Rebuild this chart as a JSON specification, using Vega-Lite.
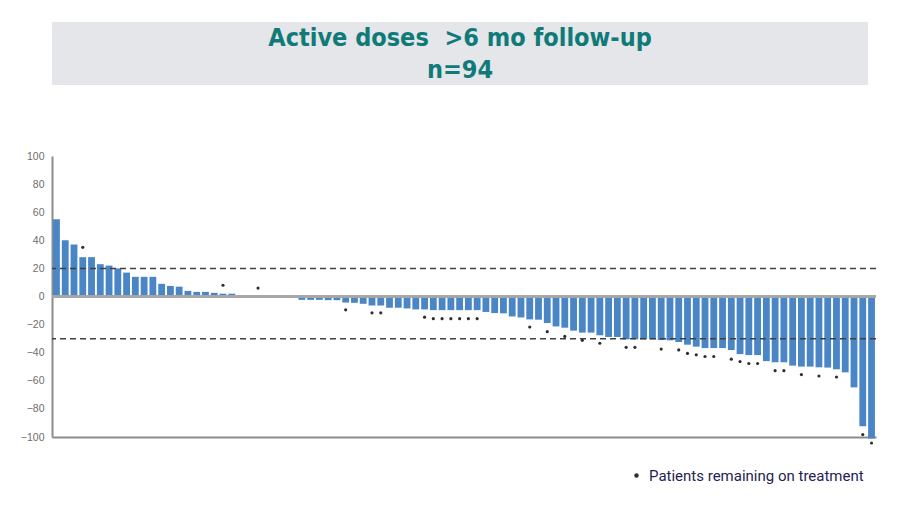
{
  "$schema": "https://vega.github.io/schema/vega-lite/v6.json",
  "description": "Waterfall of best change per patient, active doses with >6 months follow-up",
  "background": "white",
  "padding": {"left": 20, "top": 22, "right": 10, "bottom": 5},
  "bounds": "flush",
  "spacing": 71,
  "config": {"view": {"stroke": null}, "axis": {"labelOverlap": false}},
  "datasets": {
    "patients": [
      {"i": 1, "v": 55, "dot": null},
      {"i": 2, "v": 40, "dot": null},
      {"i": 3, "v": 37, "dot": null},
      {"i": 4, "v": 28, "dot": 35},
      {"i": 5, "v": 28, "dot": null},
      {"i": 6, "v": 23, "dot": null},
      {"i": 7, "v": 22, "dot": null},
      {"i": 8, "v": 20, "dot": null},
      {"i": 9, "v": 17, "dot": null},
      {"i": 10, "v": 14, "dot": null},
      {"i": 11, "v": 14, "dot": null},
      {"i": 12, "v": 14, "dot": null},
      {"i": 13, "v": 9, "dot": null},
      {"i": 14, "v": 7.5, "dot": null},
      {"i": 15, "v": 7, "dot": null},
      {"i": 16, "v": 4, "dot": null},
      {"i": 17, "v": 3.3, "dot": null},
      {"i": 18, "v": 3.3, "dot": null},
      {"i": 19, "v": 2.6, "dot": null},
      {"i": 20, "v": 2, "dot": 8},
      {"i": 21, "v": 2, "dot": null},
      {"i": 22, "v": 0.5, "dot": null},
      {"i": 23, "v": 0, "dot": null},
      {"i": 24, "v": 0, "dot": 6},
      {"i": 25, "v": 0, "dot": null},
      {"i": 26, "v": 0, "dot": null},
      {"i": 27, "v": 0, "dot": null},
      {"i": 28, "v": 0, "dot": null},
      {"i": 29, "v": -2.4, "dot": null},
      {"i": 30, "v": -2.4, "dot": null},
      {"i": 31, "v": -2.4, "dot": null},
      {"i": 32, "v": -2.6, "dot": null},
      {"i": 33, "v": -2.6, "dot": null},
      {"i": 34, "v": -4.3, "dot": -9.5},
      {"i": 35, "v": -4.5, "dot": null},
      {"i": 36, "v": -5.2, "dot": null},
      {"i": 37, "v": -6.4, "dot": -11.6},
      {"i": 38, "v": -6.4, "dot": -11.6},
      {"i": 39, "v": -8, "dot": null},
      {"i": 40, "v": -8, "dot": null},
      {"i": 41, "v": -8.5, "dot": null},
      {"i": 42, "v": -9.2, "dot": null},
      {"i": 43, "v": -9.2, "dot": -14.7},
      {"i": 44, "v": -9.7, "dot": -15.8},
      {"i": 45, "v": -9.7, "dot": -15.8},
      {"i": 46, "v": -9.7, "dot": -15.8},
      {"i": 47, "v": -9.7, "dot": -15.8},
      {"i": 48, "v": -9.7, "dot": -15.8},
      {"i": 49, "v": -9.7, "dot": -15.8},
      {"i": 50, "v": -11, "dot": null},
      {"i": 51, "v": -11.8, "dot": null},
      {"i": 52, "v": -12, "dot": null},
      {"i": 53, "v": -14.2, "dot": null},
      {"i": 54, "v": -14.9, "dot": null},
      {"i": 55, "v": -16.3, "dot": -21.7},
      {"i": 56, "v": -16.5, "dot": null},
      {"i": 57, "v": -18.9, "dot": -25},
      {"i": 58, "v": -21.3, "dot": null},
      {"i": 59, "v": -22.2, "dot": -28.4},
      {"i": 60, "v": -24.3, "dot": null},
      {"i": 61, "v": -25.7, "dot": -31.2},
      {"i": 62, "v": -25.7, "dot": null},
      {"i": 63, "v": -27.6, "dot": -33.3},
      {"i": 64, "v": -28.8, "dot": null},
      {"i": 65, "v": -28.8, "dot": null},
      {"i": 66, "v": -30.5, "dot": -36.2},
      {"i": 67, "v": -30.5, "dot": -36.2},
      {"i": 68, "v": -30.5, "dot": null},
      {"i": 69, "v": -30.5, "dot": null},
      {"i": 70, "v": -31, "dot": -37.4},
      {"i": 71, "v": -31.2, "dot": null},
      {"i": 72, "v": -32.4, "dot": -38},
      {"i": 73, "v": -34.3, "dot": -40.5},
      {"i": 74, "v": -35.7, "dot": -41.5},
      {"i": 75, "v": -36.7, "dot": -42.7},
      {"i": 76, "v": -36.7, "dot": -42.7},
      {"i": 77, "v": -36.7, "dot": null},
      {"i": 78, "v": -38.1, "dot": -44.6},
      {"i": 79, "v": -41, "dot": -46.3},
      {"i": 80, "v": -41.7, "dot": -47.7},
      {"i": 81, "v": -41.7, "dot": -47.7},
      {"i": 82, "v": -46, "dot": null},
      {"i": 83, "v": -46.8, "dot": -52.8},
      {"i": 84, "v": -46.8, "dot": -52.8},
      {"i": 85, "v": -49.2, "dot": null},
      {"i": 86, "v": -49.9, "dot": -55.6},
      {"i": 87, "v": -49.9, "dot": null},
      {"i": 88, "v": -50.4, "dot": -56.6},
      {"i": 89, "v": -50.6, "dot": null},
      {"i": 90, "v": -51.8, "dot": -57.3},
      {"i": 91, "v": -54, "dot": null},
      {"i": 92, "v": -64.7, "dot": null},
      {"i": 93, "v": -92.3, "dot": -98.3},
      {"i": 94, "v": -101, "dot": -104.3}
    ],
    "thresholds": [{"y": 20}, {"y": -30}]
  },
  "vconcat": [
    {
      "width": 816,
      "height": 63,
      "view": {"fill": "#e4e6e9", "stroke": null},
      "data": {"values": [{"t": "Active doses \u00a0>6 mo follow-up\nn=94"}]},
      "mark": {
        "type": "text",
        "lineBreak": "\n",
        "font": "DejaVu Sans Condensed, Roboto, sans-serif",
        "fontWeight": "bold",
        "fontSize": 25,
        "lineHeight": 32,
        "color": "#107a78",
        "baseline": "middle",
        "align": "center",
        "dy": -16
      },
      "encoding": {"text": {"field": "t"}}
    },
    {
      "width": 824,
      "height": 281,
      "layer": [
        {
          "data": {"name": "patients"},
          "mark": {"type": "bar", "color": "#4a86c6"},
          "encoding": {
            "x": {
              "field": "i",
              "type": "ordinal",
              "scale": {"paddingInner": 0.22, "paddingOuter": 0.12},
              "axis": {
                "labels": false,
                "ticks": false,
                "title": null,
                "domainColor": "#8c8c8c",
                "domainWidth": 2
              }
            },
            "y": {
              "field": "v",
              "type": "quantitative",
              "scale": {"domain": [-100, 100], "nice": false},
              "axis": {
                "title": null,
                "grid": false,
                "ticks": false,
                "values": [-100, -80, -60, -40, -20, 0, 20, 40, 60, 80, 100],
                "tickCount": 11,
                "labelOverlap": false,
                "labelFont": "Liberation Sans",
                "labelFontSize": 10.5,
                "labelColor": "#6e6e6e",
                "labelPadding": 8,
                "domainColor": "#8c8c8c",
                "domainWidth": 2
              }
            }
          }
        },
        {
          "data": {"name": "patients"},
          "mark": {"type": "rule", "color": "#a6a6a6", "strokeWidth": 1.5},
          "encoding": {"y": {"datum": 0}}
        },
        {
          "data": {"name": "thresholds"},
          "mark": {"type": "rule", "color": "#404040", "strokeWidth": 1.5, "strokeDash": [6, 4]},
          "encoding": {"y": {"field": "y", "type": "quantitative"}}
        },
        {
          "data": {"name": "patients"},
          "transform": [{"filter": "datum.dot != null"}],
          "mark": {"type": "point", "filled": true, "shape": "circle", "size": 10, "opacity": 1},
          "encoding": {
            "x": {"field": "i", "type": "ordinal"},
            "y": {"field": "dot", "type": "quantitative"},
            "color": {
              "datum": "Patients remaining on treatment",
              "scale": {"range": ["#2e2e2e"]},
              "legend": {
                "title": null,
                "orient": "none",
                "legendX": 577,
                "legendY": 446,
                "symbolType": "circle",
                "symbolSize": 20,
                "labelFont": "Roboto",
                "labelFontSize": 15,
                "labelColor": "#1f2450",
                "labelOffset": 5,
                "labelLimit": 400
              }
            }
          }
        }
      ]
    }
  ]
}
